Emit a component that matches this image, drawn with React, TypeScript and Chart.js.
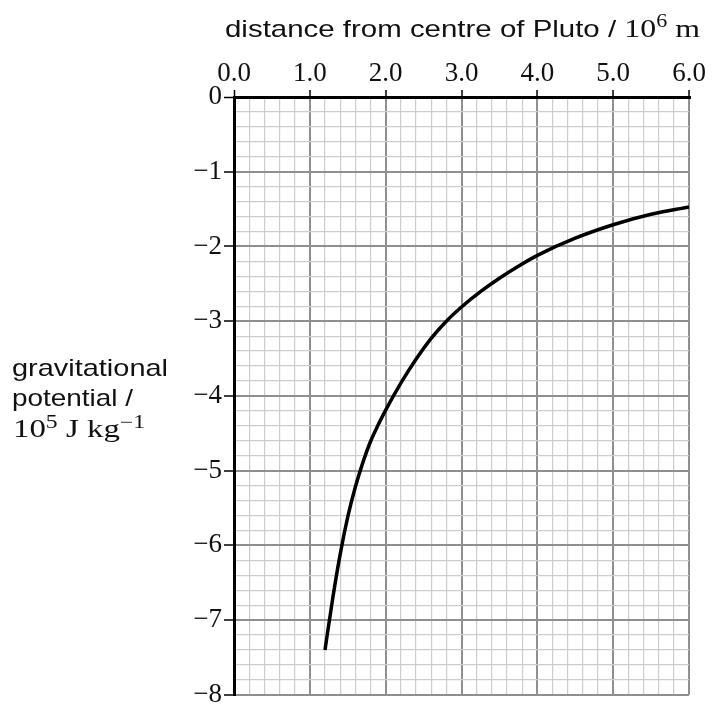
import React, { useEffect, useRef } from "react";
import { Chart, registerables } from "chart.js";

Chart.register(...registerables);

// distance from centre of Pluto / 10^6 m
const distance = [1.2, 1.3, 1.4, 1.5, 1.6, 1.7, 1.8, 1.9, 2.0, 2.2, 2.4, 2.6, 2.8, 3.0, 3.25, 3.5, 3.75, 4.0, 4.5, 5.0, 5.5, 6.0];
// gravitational potential / 10^5 J kg^-1
const potential = [-7.4, -6.72, -6.12, -5.62, -5.22, -4.89, -4.61, -4.39, -4.19, -3.83, -3.51, -3.23, -3.0, -2.81, -2.605, -2.425, -2.265, -2.12, -1.89, -1.71, -1.57, -1.47];

const xMin = 0;
const xMax = 6;
const yMin = -8;
const yMax = 0;
const minorStep = 0.2;

const SANS = '"Liberation Sans", Arimo, Arial, Helvetica, sans-serif';
const SERIF = '"Liberation Serif", Tinos, "Times New Roman", Times, serif';

const isMajor = (v: number) => Math.abs(v - Math.round(v)) < 1e-6;

type Seg = { t: string; font: string; dy?: number };

function drawRich(ctx: CanvasRenderingContext2D, segs: Seg[], x: number, y: number, targetW?: number) {
  ctx.save();
  ctx.textAlign = "left";
  ctx.textBaseline = "alphabetic";
  ctx.fillStyle = "#111";
  let total = 0;
  const ws = segs.map((s) => {
    ctx.font = s.font;
    const w = ctx.measureText(s.t).width;
    total += w;
    return w;
  });
  const sx = targetW ? targetW / total : 1;
  ctx.translate(x, y);
  ctx.scale(sx, 1);
  let cx = 0;
  segs.forEach((s, i) => {
    ctx.font = s.font;
    ctx.fillText(s.t, cx, s.dy || 0);
    cx += ws[i];
  });
  ctx.restore();
}

const titlesPlugin = {
  id: "titles",
  afterDraw(chart: any) {
    const ctx = chart.ctx as CanvasRenderingContext2D;
    drawRich(
      ctx,
      [
        { t: "distance from centre of Pluto / ", font: `24px ${SANS}` },
        { t: "10", font: `26px ${SERIF}` },
        { t: "6", font: `18px ${SERIF}`, dy: -10 },
        { t: " m", font: `26px ${SERIF}` },
      ],
      225,
      37,
      475
    );
    drawRich(ctx, [{ t: "gravitational", font: `24px ${SANS}` }], 12, 376, 156);
    drawRich(ctx, [{ t: "potential /", font: `24px ${SANS}` }], 12, 406, 121);
    drawRich(
      ctx,
      [
        { t: "10", font: `25px ${SERIF}` },
        { t: "5", font: `18px ${SERIF}`, dy: -9 },
        { t: " J kg", font: `25px ${SERIF}` },
        { t: "\u22121", font: `18px ${SERIF}`, dy: -9 },
      ],
      13,
      437,
      132
    );
  },
};

const gridColor = (c: any) => {
  const v = c.tick ? c.tick.value : 1;
  if (Math.abs(v) < 1e-9) return "#000";
  return isMajor(v) ? "#8f8f8f" : "#cdcdcd";
};
const gridWidth = (c: any) => {
  const v = c.tick ? c.tick.value : 1;
  if (Math.abs(v) < 1e-9) return 3;
  return isMajor(v) ? 2 : 1.2;
};
const tickColor = (c: any) => {
  const v = c.tick ? c.tick.value : 0.5;
  return isMajor(v) ? "#000" : "rgba(0,0,0,0)";
};

export default function App() {
  const ref = useRef<HTMLCanvasElement | null>(null);
  useEffect(() => {
    let chart: Chart | null = null;
    let cancelled = false;
    const build = () => {
      if (cancelled || !ref.current) return;
      chart = new Chart(ref.current, {
        type: "line",
        data: {
          datasets: [
            {
              data: distance.map((d, i) => ({ x: d, y: potential[i] })),
              borderColor: "#000",
              borderWidth: 3.5,
              pointRadius: 0,
              fill: false,
              cubicInterpolationMode: "monotone",
            },
          ],
        },
        options: {
          animation: false,
          responsive: false,
          devicePixelRatio: 1,
          layout: { padding: { left: 0, top: 0, right: 24, bottom: 9 } },
          plugins: { legend: { display: false }, tooltip: { enabled: false }, title: { display: false } },
          scales: {
            x: {
              type: "linear",
              position: "top",
              min: xMin,
              max: xMax,
              afterFit: (s: any) => {
                s.height = 97;
              },
              ticks: {
                stepSize: minorStep,
                autoSkip: false,
                maxRotation: 0,
                padding: 0,
                color: "#111",
                font: { family: SERIF, size: 27 },
                callback: (v: any) => (isMajor(Number(v)) ? Number(v).toFixed(1) : ""),
              },
              grid: {
                color: gridColor,
                lineWidth: gridWidth,
                tickColor: tickColor,
                tickWidth: 1.5,
                tickLength: 7,
                drawTicks: true,
              },
              border: { color: "#000", width: 3 },
            },
            y: {
              type: "linear",
              position: "left",
              min: yMin,
              max: yMax,
              afterFit: (s: any) => {
                s.width = 234;
              },
              ticks: {
                stepSize: minorStep,
                autoSkip: false,
                padding: 2,
                color: "#111",
                font: { family: SERIF, size: 27 },
                callback: (v: any) => {
                  const n = Number(v);
                  if (!isMajor(n)) return "";
                  const r = Math.round(n);
                  return r === 0 ? "0" : "\u2212" + Math.abs(r);
                },
              },
              grid: {
                color: gridColor,
                lineWidth: gridWidth,
                tickColor: tickColor,
                tickWidth: 1.5,
                tickLength: 10,
                drawTicks: true,
              },
              border: { color: "#000", width: 3 },
            },
          },
        },
        plugins: [titlesPlugin],
      } as any);
    };
    const fontsApi = (document as any).fonts;
    if (fontsApi && fontsApi.load) {
      Promise.all([
        fontsApi.load('27px "Liberation Serif"'),
        fontsApi.load('24px "Liberation Sans"'),
      ])
        .catch(() => null)
        .then(build);
    } else {
      build();
    }
    return () => {
      cancelled = true;
      if (chart) chart.destroy();
    };
  }, []);
  return (
    <div style={{ position: "absolute", left: 0, top: 0, width: 713, height: 713, background: "#fff" }}>
      <canvas ref={ref} width={713} height={713} style={{ width: 713, height: 713 }} />
    </div>
  );
}
